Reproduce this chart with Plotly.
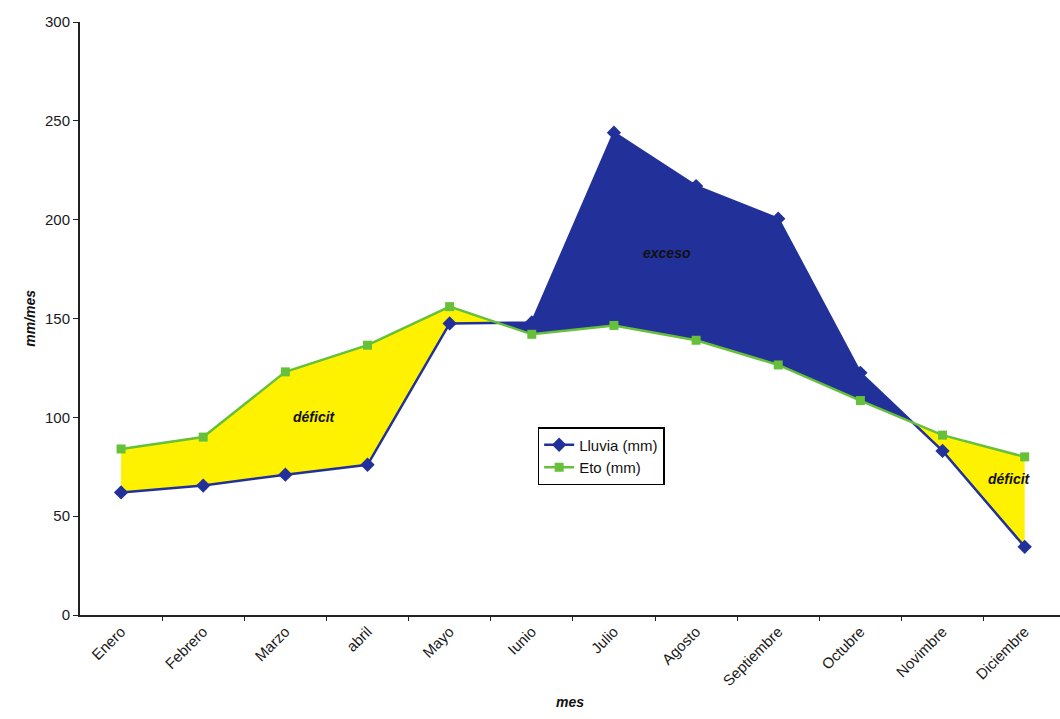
import plotly.graph_objects as go

# Monthly rainfall and reference evapotranspiration (mm/mes)
meses = ["Enero", "Febrero", "Marzo", "abril", "Mayo", "Iunio", "Julio",
         "Agosto", "Septiembre", "Octubre", "Novimbre", "Diciembre"]
lluvia = [62, 65.5, 71, 76, 147.5, 148, 244, 217, 200.5, 122.5, 83, 34.5]
eto = [84, 90, 123, 136.5, 156, 142, 146.5, 139, 126.5, 108.5, 91, 80]

BLUE = "#22309a"
YELLOW = "#fff200"
GREEN = "#66c03a"
FONT = "Liberation Sans, Arial, sans-serif"

x = list(range(len(meses)))


def regions(a, b):
    """Split the span between two series into polygons of constant sign (a - b)."""
    out = []
    cur_x, cur_a, cur_b = [x[0]], [a[0]], [b[0]]
    for i in range(len(x) - 1):
        d0, d1 = a[i] - b[i], a[i + 1] - b[i + 1]
        if d0 * d1 < 0:
            t = d0 / (d0 - d1)
            xc = x[i] + t * (x[i + 1] - x[i])
            yc = a[i] + t * (a[i + 1] - a[i])
            cur_x.append(xc); cur_a.append(yc); cur_b.append(yc)
            out.append((cur_x, cur_a, cur_b, d0 > 0))
            cur_x, cur_a, cur_b = [xc], [yc], [yc]
        cur_x.append(x[i + 1]); cur_a.append(a[i + 1]); cur_b.append(b[i + 1])
    d = sum(ai - bi for ai, bi in zip(cur_a, cur_b))
    out.append((cur_x, cur_a, cur_b, d > 0))
    return out


fig = go.Figure()

for rx, ra, rb, surplus in regions(lluvia, eto):
    fig.add_trace(go.Scatter(
        x=rx + rx[::-1], y=ra + rb[::-1],
        fill="toself", fillcolor=BLUE if surplus else YELLOW,
        line=dict(width=0), mode="lines", hoverinfo="skip", showlegend=False,
    ))

fig.add_trace(go.Scatter(
    x=x, y=lluvia, name="Lluvia (mm)", mode="lines+markers",
    line=dict(color=BLUE, width=2.5),
    marker=dict(symbol="diamond", size=11, color=BLUE),
))
fig.add_trace(go.Scatter(
    x=x, y=eto, name="Eto (mm)", mode="lines+markers",
    line=dict(color=GREEN, width=2.5),
    marker=dict(symbol="square", size=9, color=GREEN),
))

annot_font = dict(family=FONT, size=14, color="#111")
fig.add_annotation(x=2.35, y=100, text="<b><i>déficit</i></b>", showarrow=False, font=annot_font)
fig.add_annotation(x=6.65, y=183, text="<b><i>exceso</i></b>", showarrow=False, font=annot_font)
fig.add_annotation(x=10.82, y=69, text="<b><i>déficit</i></b>", showarrow=False, font=annot_font)

fig.add_annotation(xref="paper", yref="paper", x=0.5, y=-0.163,
                   text="<b><i>mes</i></b>", showarrow=False,
                   font=dict(family=FONT, size=14, color="#111"))
fig.add_annotation(xref="paper", yref="paper", x=-0.062, y=0.5, textangle=-90,
                   text="<b><i>mm/mes</i></b>", showarrow=False,
                   font=dict(family=FONT, size=14, color="#111"))

fig.update_layout(
    width=1060, height=719,
    margin=dict(l=80, r=0, t=22, b=104),
    paper_bgcolor="white", plot_bgcolor="white",
    font=dict(family=FONT, size=14, color="#222"),
    legend=dict(x=0.467, y=0.317, xanchor="left", yanchor="top",
                bgcolor="white", bordercolor="black", borderwidth=1.5,
                font=dict(family=FONT, size=15, color="#111"),
                tracegroupgap=0, itemwidth=30),
    xaxis=dict(
        range=[-0.5, 11.43], tickmode="array", tickvals=x, ticktext=meses,
        tickangle=-45, ticks="", showgrid=False, zeroline=False,
        showline=True, linecolor="#222", linewidth=2,
        tickfont=dict(family=FONT, size=15, color="#1a1a1a"),
        minor=dict(tickmode="array", tickvals=[i + 0.5 for i in x[:-1]],
                   ticks="outside", ticklen=4, tickcolor="#222", showgrid=False),
    ),
    yaxis=dict(
        range=[0, 300], tickvals=[0, 50, 100, 150, 200, 250, 300],
        ticks="outside", ticklen=5, tickcolor="#222",
        showgrid=False, zeroline=False,
        showline=True, linecolor="#222", linewidth=2,
        tickfont=dict(family=FONT, size=15, color="#1a1a1a"),
    ),
)

fig.write_html("out.html")
